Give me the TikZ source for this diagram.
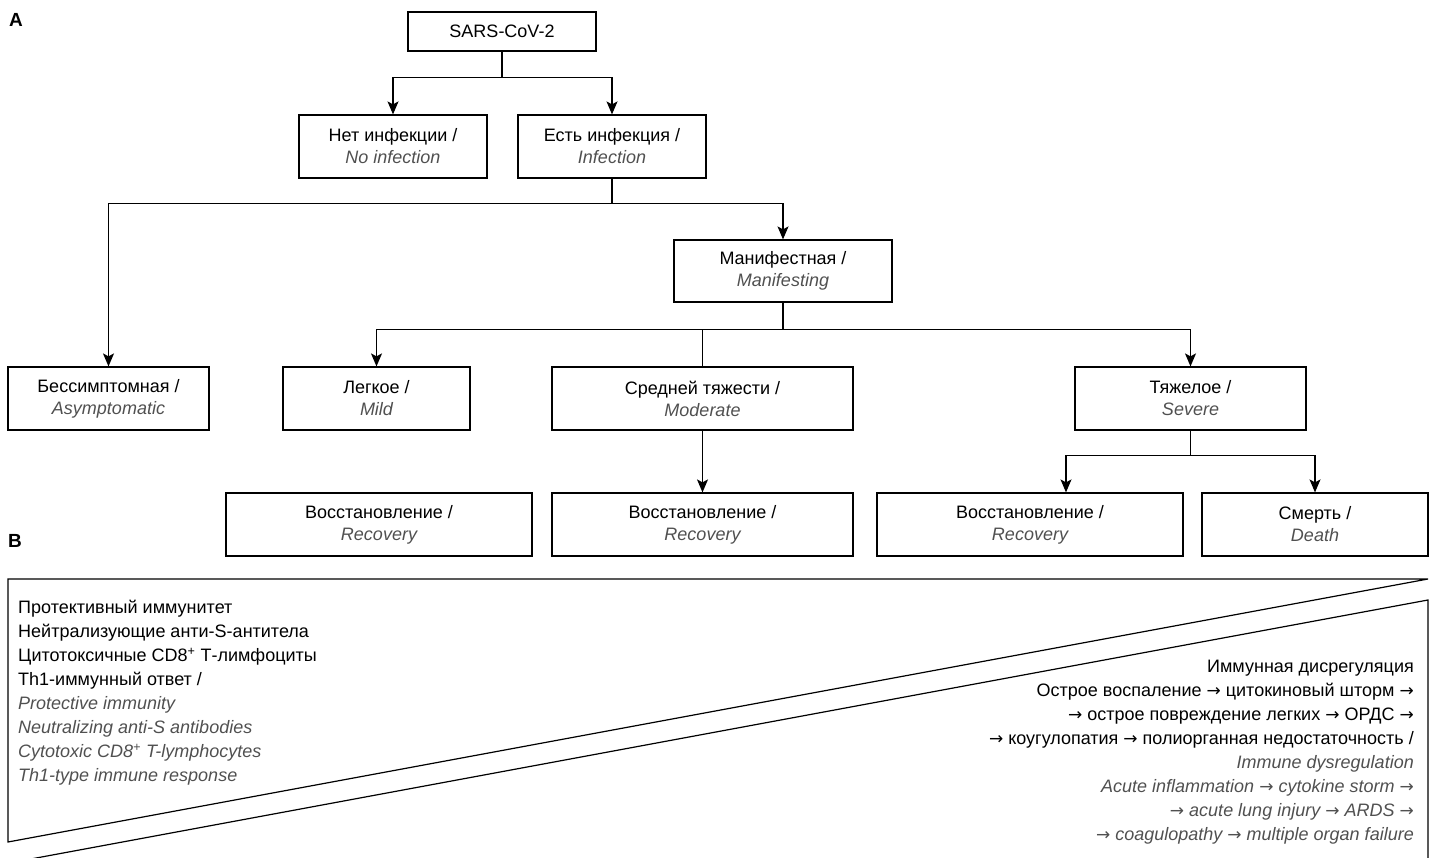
\documentclass[tikz,border=0pt]{standalone}
\usepackage{fontspec}
\setmainfont{Liberation Sans}
\newfontfamily\arrowfont{DejaVu Sans}
\usetikzlibrary{arrows.meta}
\definecolor{engray}{RGB}{80,80,80}
\newcommand{\en}[1]{{\itshape\color{engray}#1}}
\newcommand{\ra}{{\upshape\arrowfont\fontsize{17}{24}\selectfont →}}
\begin{document}
\begin{tikzpicture}[x=1pt,y=-1pt,
  box/.style={draw, line width=1.2pt, rectangle, inner sep=0pt, align=center, font=\fontsize{18}{22}\selectfont},
  conn/.style={line width=1.2pt},
  arr/.style={conn, -{Stealth[length=13pt,width=11pt,inset=3pt]}},
  lbl/.style={font=\fontsize{19}{22}\selectfont\bfseries, anchor=base west, inner sep=0pt},
  para/.style={inner sep=0pt, font=\fontsize{18}{24}\selectfont}]
\useasboundingbox (0,0) rectangle (1435,858);
\clip (0,0) rectangle (1435,858);

\node[lbl] (la) at (9,27) {A};
\node[lbl] (lb) at (8,547) {B};

\node[box, minimum width=188pt, minimum height=39pt] (sars) at (502,31.5) {SARS-CoV-2};
\node[box, minimum width=188pt, minimum height=63pt] (no) at (393,146.5) {Нет инфекции /\\\en{No infection}};
\node[box, minimum width=188pt, minimum height=63pt] (yes) at (612,146.5) {Есть инфекция /\\\en{Infection}};
\node[box, minimum width=218pt, minimum height=62pt] (man) at (783,271) {Манифестная /\\\en{Manifesting}};
\node[box, minimum width=201pt, minimum height=63pt] (asym) at (108.5,398.5) {Бессимптомная /\\\en{Asymptomatic}};
\node[box, minimum width=187pt, minimum height=63pt] (mild) at (376.5,398.5) {Легкое /\\\en{Mild}};
\node[box, minimum width=301pt, minimum height=63pt] (mod) at (702.5,398.5) {Средней тяжести /\\\en{Moderate}};
\node[box, minimum width=231pt, minimum height=63pt] (sev) at (1190.5,398.5) {Тяжелое /\\\en{Severe}};
\node[box, minimum width=306pt, minimum height=63pt] (rec1) at (379,524.5) {Восстановление /\\\en{Recovery}};
\node[box, minimum width=301pt, minimum height=63pt] (rec2) at (702.5,524.5) {Восстановление /\\\en{Recovery}};
\node[box, minimum width=306pt, minimum height=63pt] (rec3) at (1030,524.5) {Восстановление /\\\en{Recovery}};
\node[box, minimum width=226pt, minimum height=63pt] (death) at (1315,524.5) {Смерть /\\\en{Death}};

\draw[conn] (sars.south) -- ++(0,26) coordinate (j1);
\draw[arr] (j1) -| (no.north);
\draw[arr] (j1) -| (yes.north);
\draw[conn] (yes.south) -- ++(0,25) coordinate (j2);
\draw[arr] (j2) -| (asym.north);
\draw[arr] (j2) -| (man.north);
\draw[conn] (man.south) -- ++(0,27) coordinate (j3);
\draw[arr] (j3) -| (mild.north);
\draw[arr] (j3) -| (sev.north);
\draw[conn] (j3) -| (mod.north);
\draw[arr] (mod.south) -- (rec2.north);
\draw[conn] (sev.south) -- ++(0,25) coordinate (j4);
\draw[arr] (j4) -| ([xshift=36pt]rec3.north);
\draw[arr] (j4) -| (death.north);

\draw[conn] (8,579) -- (1428,579) -- (8,842) -- cycle;
\draw[conn] (20,861) -- (1428,600) -- (1428,870);

\node[para, anchor=north west, align=left] (prot) at (18,600) {Протективный иммунитет\\
Нейтрализующие анти-S-антитела\\
Цитотоксичные CD8\textsuperscript{+} Т-лимфоциты\\
Th1-иммунный ответ /\\
\en{Protective immunity}\\
\en{Neutralizing anti-S antibodies}\\
\en{Cytotoxic CD8\textsuperscript{+} T-lymphocytes}\\
\en{Th1-type immune response}};

\node[para, anchor=north east, align=right] (dys) at (1414,660) {Иммунная дисрегуляция\\
Острое воспаление \ra{} цитокиновый шторм \ra\\
\ra{} острое повреждение легких \ra{} ОРДС \ra\\
\ra{} коугулопатия \ra{} полиорганная недостаточность /\\
\en{Immune dysregulation}\\
\en{Acute inflammation \ra{} cytokine storm \ra}\\
\en{\ra{} acute lung injury \ra{} ARDS \ra}\\
\en{\ra{} coagulopathy \ra{} multiple organ failure}};
\end{tikzpicture}
\end{document}
